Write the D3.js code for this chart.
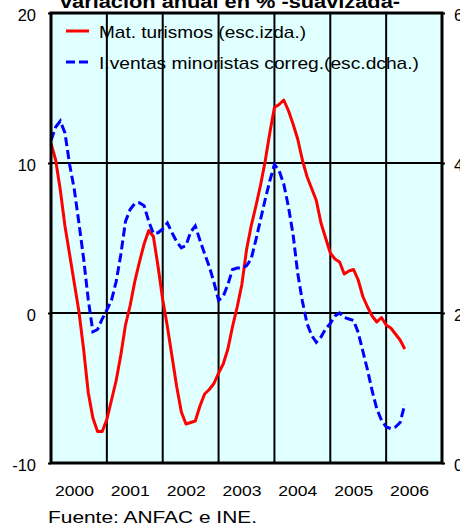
<!DOCTYPE html>
<html>
<head>
<meta charset="utf-8">
<script src="https://cdn.jsdelivr.net/npm/d3@7"></script>
<style>
  body { margin: 0; background: #fff; }
  svg { display: block; font-family: Arial, "Liberation Sans", sans-serif; }
</style>
</head>
<body>
<svg id="chart" width="460" height="526"></svg>
<script>
// monthly values, Jan 2000 onwards
const years = ['2000', '2001', '2002', '2003', '2004', '2005', '2006'];
const leftTicks = [-10, 0, 10, 20];
const rightTicks = [0, 20, 40, 60];

// Mat. turismos, variación anual % (esc.izda.)
const turismos = [
  11.3, 10.2, 8.2, 5.8, 3.9, 2.0, 0.1, -2.4, -5.3, -7.0, -7.9, -7.9,
  -7.1, -5.8, -4.5, -2.8, -0.8, 0.5, 2.1, 3.4, 4.6, 5.5, 5.1, 3.1,
  0.9, -0.9, -2.9, -4.9, -6.6, -7.4, -7.3, -7.2, -6.2, -5.4, -5.1, -4.7,
  -4.0, -3.4, -2.4, -0.9, 0.4, 1.9, 4.2, 5.8, 7.1, 8.5, 10.1, 12.0,
  13.7, 13.9, 14.2, 13.5, 12.6, 11.6, 10.2, 9.1, 8.3, 7.5, 6.0, 5.0,
  4.0, 3.6, 3.4, 2.6, 2.8, 2.9, 2.2, 1.1, 0.4, -0.2, -0.6, -0.3,
  -0.8, -1.0, -1.4, -1.8, -2.4
];

// I. ventas minoristas correg. (esc.dcha.)
const ventas = [
  43.0, 44.8, 45.6, 44.0, 39.8, 36.5, 32.0, 27.3, 21.8, 17.5, 17.8, 19.2,
  20.4, 21.7, 24.2, 27.8, 32.2, 33.8, 34.6, 34.7, 34.3, 32.2, 30.6, 30.7,
  31.2, 32.0, 30.7, 29.5, 28.7, 29.0, 30.8, 31.6, 29.7, 27.9, 26.2, 24.1,
  21.7, 22.2, 23.8, 25.8, 26.0, 26.0, 26.3, 27.2, 29.7, 32.4, 35.1, 37.6,
  39.8, 39.0, 37.2, 34.2, 30.5, 25.3, 21.6, 18.6, 17.0, 16.1, 16.8, 17.9,
  18.6, 19.6, 20.0, 19.4, 19.2, 19.0, 17.4, 14.9, 12.4, 9.6, 7.2, 5.7,
  4.8, 4.6, 4.8, 5.4, 7.8
];

const svg = d3.select('#chart');
const plotL = 51, plotR = 442, plotT = 13, plotB = 463;

const x = d3.scaleLinear().domain([0, years.length * 12]).range([plotL, plotR]);
const yL = d3.scaleLinear().domain([-10, 20]).range([plotB, plotT]);
const yR = d3.scaleLinear().domain([0, 60]).range([plotB, plotT]);

// plot background
svg.append('rect')
  .attr('x', plotL).attr('y', plotT)
  .attr('width', plotR - plotL).attr('height', plotB - plotT)
  .attr('fill', '#e0ffff');

// grid
const grid = svg.append('g').attr('stroke', '#000').attr('stroke-width', 2);
grid.selectAll('line.v')
  .data(d3.range(1, years.length))
  .join('line')
  .attr('class', 'v')
  .attr('x1', d => x(d * 12)).attr('x2', d => x(d * 12))
  .attr('y1', plotT).attr('y2', plotB);
grid.selectAll('line.h')
  .data([0, 10])
  .join('line')
  .attr('class', 'h')
  .attr('x1', plotL).attr('x2', plotR)
  .attr('y1', d => yL(d)).attr('y2', d => yL(d));

// axes (labels + small ticks); plain hyphen for negatives, as in the original
const axL = svg.append('g')
  .attr('transform', `translate(${plotL},0)`)
  .call(d3.axisLeft(yL).tickValues(leftTicks).tickFormat(d => String(d))
    .tickSize(3).tickSizeOuter(0).tickPadding(12));
// right-hand labels run off the page edge in the original too
const axR = svg.append('g')
  .attr('transform', `translate(${plotR},0)`)
  .call(d3.axisRight(yR).tickValues(rightTicks).tickFormat(d => String(d))
    .tickSize(3).tickSizeOuter(0).tickPadding(9));
[axL, axR].forEach(ax => {
  ax.select('.domain').remove();
  ax.selectAll('line').attr('stroke', '#000').attr('stroke-width', 2);
  ax.selectAll('text')
    .attr('font-size', 16.5)
    .attr('font-family', 'Arial, "Liberation Sans", sans-serif')
    .attr('fill', '#000')
    .attr('dy', '0.43em');
});

// series
const lineL = d3.line().x((d, i) => x(i)).y(d => yL(d));
const lineR = d3.line().x((d, i) => x(i)).y(d => yR(d));

svg.append('path')
  .datum(turismos)
  .attr('d', lineL)
  .attr('fill', 'none')
  .attr('stroke', '#ff0000')
  .attr('stroke-width', 3)
  .attr('stroke-linejoin', 'round');

svg.append('path')
  .datum(ventas)
  .attr('d', lineR)
  .attr('fill', 'none')
  .attr('stroke', '#0000ff')
  .attr('stroke-width', 3)
  .attr('stroke-dasharray', '9,4');

// border
svg.append('rect')
  .attr('x', plotL).attr('y', plotT)
  .attr('width', plotR - plotL).attr('height', plotB - plotT)
  .attr('fill', 'none')
  .attr('stroke', '#000')
  .attr('stroke-width', 3);

// year labels
svg.selectAll('text.year')
  .data(years)
  .join('text')
  .attr('class', 'year')
  .attr('x', (d, i) => x(i * 12 + 6) - 4.5)
  .attr('y', 495.5)
  .attr('text-anchor', 'middle')
  .attr('font-size', 15.5)
  .attr('textLength', 39)
  .attr('lengthAdjust', 'spacingAndGlyphs')
  .text(d => d);

// title (cut at top edge)
svg.append('text')
  .attr('x', 230).attr('y', 7.5)
  .attr('text-anchor', 'middle')
  .attr('font-size', 18)
  .attr('font-weight', 'bold')
  .attr('textLength', 340)
  .attr('lengthAdjust', 'spacingAndGlyphs')
  .text('variación anual en % -suavizada-');

// legend
const legend = [
  { label: 'Mat. turismos (esc.izda.)', color: '#ff0000', dash: null, y: 31, w: 207 },
  { label: 'I.ventas minoristas correg.(esc.dcha.)', color: '#0000ff', dash: '9,4', y: 62, w: 320 }
];
const lg = svg.selectAll('g.leg').data(legend).join('g').attr('class', 'leg');
lg.append('line')
  .attr('x1', 66).attr('x2', 89)
  .attr('y1', d => d.y).attr('y2', d => d.y)
  .attr('stroke', d => d.color)
  .attr('stroke-width', 3)
  .attr('stroke-dasharray', d => d.dash);
lg.append('text')
  .attr('x', 99).attr('y', d => d.y + 6.5)
  .attr('font-size', 17)
  .attr('textLength', d => d.w)
  .attr('lengthAdjust', 'spacingAndGlyphs')
  .text(d => d.label);

// source
svg.append('text')
  .attr('x', 48).attr('y', 523)
  .attr('font-size', 17)
  .attr('textLength', 209)
  .attr('lengthAdjust', 'spacingAndGlyphs')
  .text('Fuente: ANFAC e INE.');
</script>
</body>
</html>
